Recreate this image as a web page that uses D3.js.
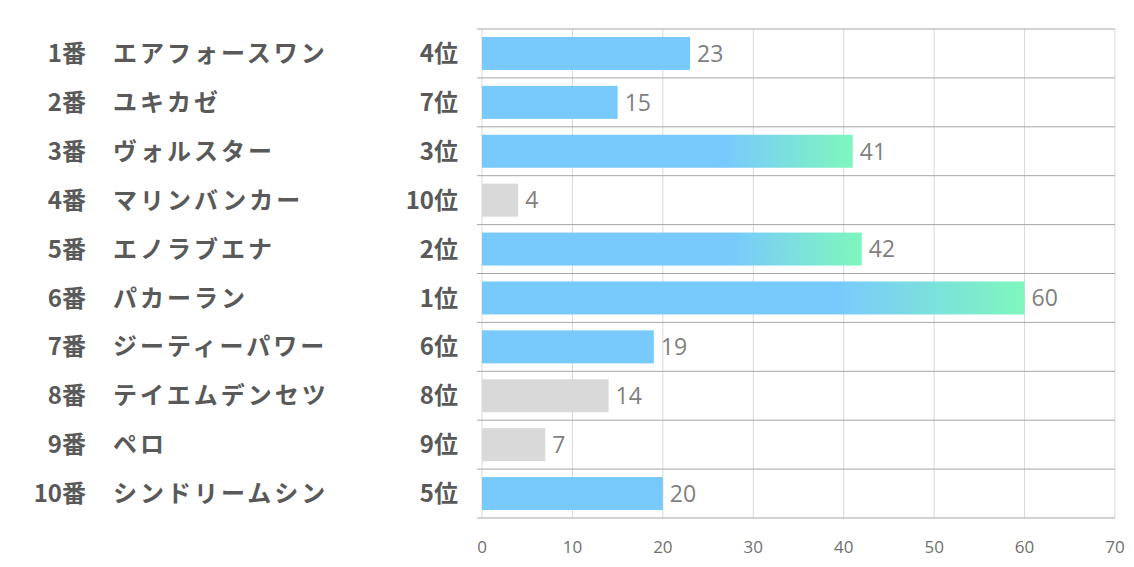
<!DOCTYPE html>
<html><head><meta charset="utf-8">
<script src="https://cdn.jsdelivr.net/npm/d3@7"></script>
<style>body{margin:0;background:#fff}svg{display:block}</style>
</head><body>
<svg id="c" width="1134" height="567"></svg>
<script>
const numbers = ["1番","2番","3番","4番","5番","6番","7番","8番","9番","10番"];
const names = ["エアフォースワン","ユキカゼ","ヴォルスター","マリンバンカー","エノラブエナ","パカーラン","ジーティーパワー","テイエムデンセツ","ペロ","シンドリームシン"];
const ranks = [4,7,3,10,2,1,6,8,9,5];
const values = [23,15,41,4,42,60,19,14,7,20];
const xTicks = [0,10,20,30,40,50,60,70];

const svg = d3.select("#c");
const x = d3.scaleLinear().domain([0,70]).range([482,1115]);
const y = d3.scaleBand().domain(d3.range(numbers.length)).range([29,518]).padding(0);
const barH = y.bandwidth()*0.675;
const jp = "'Noto Sans CJK JP','Noto Sans',sans-serif";

// vertical gridlines
svg.append("g").selectAll("line").data(xTicks).join("line")
  .attr("x1",d=>x(d)).attr("x2",d=>x(d)).attr("y1",29).attr("y2",518)
  .attr("stroke","#d9d9d9").attr("stroke-width",1);

// defs gradient
const defs = svg.append("defs");
const g = defs.append("linearGradient").attr("id","grad").attr("x1","0").attr("x2","1").attr("y1","0").attr("y2","0");
g.append("stop").attr("offset","0.66").attr("stop-color","#79cafc");
g.append("stop").attr("offset","1").attr("stop-color","#7ef7bd");

const color = r => r<=3 ? "url(#grad)" : (r<=7 ? "#79cafc" : "#d9d9d9");

svg.append("g").selectAll("rect").data(values).join("rect")
  .attr("x",x(0)).attr("y",(d,i)=>y(i)+(y.bandwidth()-barH)/2)
  .attr("width",d=>x(d)-x(0)).attr("height",barH)
  .attr("fill",(d,i)=>color(ranks[i]));

// horizontal separators
const seps = d3.range(numbers.length+1);
svg.append("g").selectAll("line").data(seps).join("line")
  .attr("x1",477).attr("x2",1115)
  .attr("y1",d=>d<numbers.length? y(d):y.range()[1]).attr("y2",d=>d<numbers.length? y(d):y.range()[1])
  .attr("stroke","#a6a6a6").attr("stroke-width",1);

// value labels
svg.append("g").selectAll("text").data(values).join("text")
  .attr("x",d=>x(d)+7).attr("y",(d,i)=>y(i)+y.bandwidth()/2)
  .attr("dy","0.36em").attr("font-family","'Open Sans','Noto Sans',sans-serif").attr("font-size",23)
  .attr("fill","#7f7f7f").text(d=>d);

// left labels
const lab = svg.append("g").attr("font-family",jp).attr("font-weight","bold").attr("font-size",24).attr("fill","#595959");
lab.selectAll("text.num").data(numbers).join("text").attr("class","num")
  .attr("x",86).attr("y",(d,i)=>y(i)+y.bandwidth()/2).attr("dy","0.36em").attr("text-anchor","end").text(d=>d);
lab.selectAll("text.name").data(names).join("text").attr("class","name")
  .attr("x",113).attr("y",(d,i)=>y(i)+y.bandwidth()/2).attr("dy","0.36em").attr("letter-spacing","3px").text(d=>d);
lab.selectAll("text.rank").data(ranks).join("text").attr("class","rank")
  .attr("x",458).attr("y",(d,i)=>y(i)+y.bandwidth()/2).attr("dy","0.36em").attr("text-anchor","end").text(d=>d+"位");

// x axis tick labels
svg.append("g").selectAll("text").data(xTicks).join("text")
  .attr("x",d=>x(d)).attr("y",547).attr("dy","0.36em").attr("text-anchor","middle")
  .attr("font-family","'Open Sans','Noto Sans',sans-serif").attr("font-size",17).attr("fill","#6f6f6f").text(d=>d);
</script>
</body></html>
